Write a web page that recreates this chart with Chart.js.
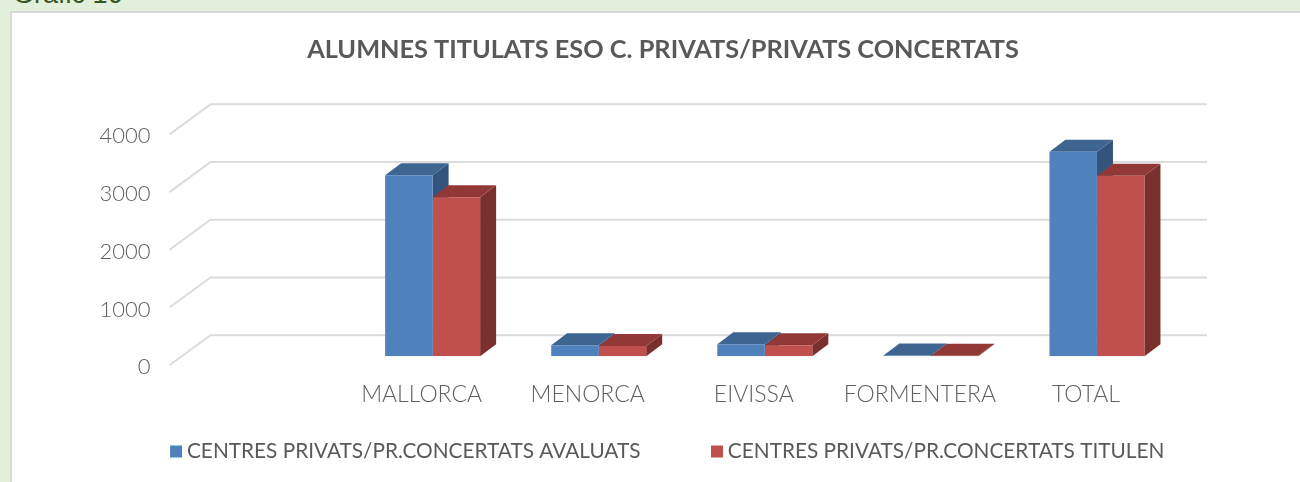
<!DOCTYPE html>
<html>
<head>
<meta charset="utf-8">
<script src="https://cdn.jsdelivr.net/npm/chart.js@4"></script>
<style>
  html, body { margin: 0; padding: 0; width: 1300px; height: 482px; overflow: hidden; background: #e2efda; }
  #etiqueta { position: absolute; left: 13px; top: -21px; font: 27px "Liberation Sans", Arial, sans-serif; color: #375623; }
  #marco { position: absolute; left: 10px; top: 11px; width: 1300px; height: 480px; background: #fff; border: 2px solid #d9d9d9; }
  #lienzo { position: absolute; left: 26px; top: 0; width: 1274px; height: 482px; }
</style>
</head>
<body>
<div id="etiqueta">Gràfic 16</div>
<div id="marco"></div>
<div id="lienzo"><canvas id="grafico" width="1274" height="482"></canvas></div>
<script>
const categorias = ["", "MALLORCA", "MENORCA", "EIVISSA", "FORMENTERA", "TOTAL"];
const avaluats = [null, 3134, 190, 208, 10, 3542];
const titulen = [null, 2753, 175, 190, 8, 3126];
const marcasY = [0, 1000, 2000, 3000, 4000];

// profundidad del falso 3D
const fondoBarra = { dx: 16, dy: -12 };
const paredFondo = { dx: 27, dy: -21 };
const paredFrente = { dx: -14, dy: 9 };

const caras = [
  { tapa: "#3e6490", lado: "#34547d" },
  { tapa: "#923937", lado: "#7b2f2d" }
];

function poligono(ctx, color, puntos) {
  ctx.fillStyle = color;
  ctx.beginPath();
  puntos.forEach((p, i) => i ? ctx.lineTo(p[0], p[1]) : ctx.moveTo(p[0], p[1]));
  ctx.closePath();
  ctx.fill();
}

const falso3d = {
  id: "falso3d",
  afterLayout(chart) {
    // el eje x recorta sus etiquetas a su caja, y la leyenda va algo a la derecha
    chart.scales.x.bottom += 50;
    chart.legend.left += 7;
    chart.legend.right += 7;
  },
  beforeDatasetsDraw(chart) {
    const { ctx, chartArea, scales } = chart;
    ctx.save();

    // rejilla: pared del fondo y suelo inclinado
    ctx.strokeStyle = "#dcdcdc";
    ctx.lineWidth = 2;
    marcasY.forEach((v) => {
      const y = scales.y.getPixelForValue(v);
      ctx.beginPath();
      ctx.moveTo(chartArea.left + paredFrente.dx, y + paredFrente.dy);
      ctx.lineTo(chartArea.left + paredFondo.dx, y + paredFondo.dy);
      ctx.lineTo(chartArea.right + paredFondo.dx, y + paredFondo.dy);
      ctx.stroke();
    });

    // tapas y lados, las caras frontales las pinta Chart.js encima
    chart.data.datasets.forEach((_, d) => {
      chart.getDatasetMeta(d).data.forEach((barra, i) => {
        if (chart.data.datasets[d].data[i] === null) return;
        const izq = barra.x - barra.width / 2;
        const der = barra.x + barra.width / 2;
        const { dx, dy } = fondoBarra;
        poligono(ctx, caras[d].lado, [[der, barra.base], [der + dx, barra.base + dy], [der + dx, barra.y + dy], [der, barra.y]]);
        poligono(ctx, caras[d].tapa, [[izq, barra.y], [izq + dx, barra.y + dy], [der + dx, barra.y + dy], [der, barra.y]]);
      });
    });
    ctx.restore();
  }
};

new Chart(document.getElementById("grafico"), {
  type: "bar",
  plugins: [falso3d],
  data: {
    labels: categorias,
    datasets: [
      { label: "CENTRES PRIVATS/PR.CONCERTATS AVALUATS", data: avaluats, backgroundColor: "#4f81bd", borderWidth: 0 },
      { label: "CENTRES PRIVATS/PR.CONCERTATS TITULEN", data: titulen, backgroundColor: "#c0504d", borderWidth: 0 }
    ]
  },
  options: {
    responsive: false,
    animation: false,
    layout: { padding: { bottom: 10 } },
    datasets: { bar: { barPercentage: 1, categoryPercentage: 0.572 } },
    plugins: {
      tooltip: { enabled: false },
      title: {
        display: true,
        text: "ALUMNES TITULATS ESO C. PRIVATS/PRIVATS CONCERTATS",
        color: "#595959",
        font: { family: "Lato", size: 25.3, weight: "bold" },
        padding: { top: 35, bottom: 60 }
      },
      legend: {
        position: "bottom",
        labels: {
          color: "#595959",
          font: { family: "Lato", size: 20.8 },
          // boxWidth minimo: el cuadrado lo da pointStyle y el texto queda pegado
          usePointStyle: true,
          pointStyle: "rect",
          boxWidth: 1,
          boxHeight: 12,
          padding: 76
        }
      }
    },
    scales: {
      x: {
        grid: { display: false },
        border: { display: false },
        ticks: {
          color: "#5f5f5f",
          font: { family: "Lato", size: 23, weight: "300" },
          labelOffset: -11,
          padding: 17,
          maxRotation: 0,
          autoSkip: false
        },
        afterFit: (s) => { s.height = 9; }
      },
      y: {
        min: 0,
        max: 4000,
        grid: { display: false, drawTicks: false },
        border: { display: false },
        ticks: {
          stepSize: 1000,
          color: "#5f5f5f",
          font: { family: "Lato", size: 22, weight: "300" },
          format: { useGrouping: false },
          labelOffset: 11,
          padding: 33
        },
        afterFit: (s) => { s.width = 157.5; }
      },
      // eje vacio, solo reserva el hueco de la derecha
      hueco: {
        position: "right",
        display: true,
        grid: { display: false },
        border: { display: false },
        ticks: { display: false },
        afterFit: (s) => { s.width = 120; }
      }
    }
  }
});
</script>
</body>
</html>
